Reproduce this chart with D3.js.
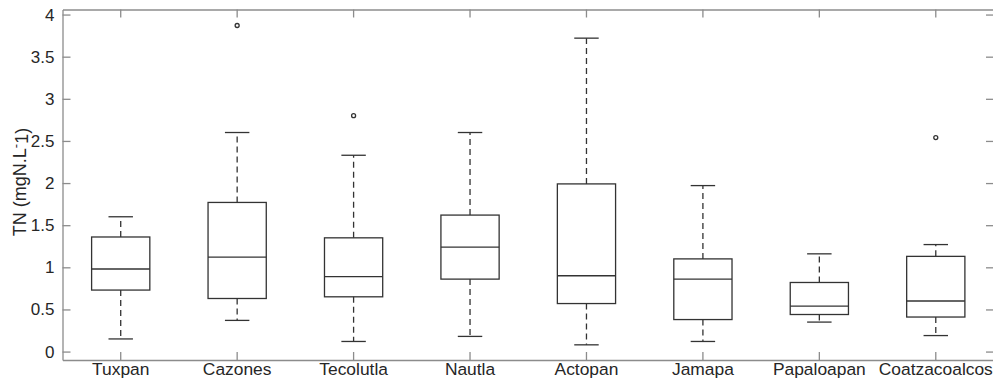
<!DOCTYPE html>
<html>
<head>
<meta charset="utf-8">
<script src="https://cdn.jsdelivr.net/npm/d3@7"></script>
<style>
  body { margin: 0; background: #fff; }
  svg { display: block; }
  svg text { font-family: Arial, "Liberation Sans", sans-serif; }
  .axis path, .axis line { stroke: #8c8c8c; stroke-width: 1.3; }
  .axis text { fill: #262626; font-size: 17px; }
  .axis--x text { font-size: 17.4px; }
  .box__line { stroke: #333; stroke-width: 1.3; fill: none; }
  .box__whisker { stroke: #333; stroke-width: 1.3; stroke-dasharray: 6,4; }
</style>
</head>
<body>
<div id="chart"></div>
<script>
var categories = ['Tuxpan', 'Cazones', 'Tecolutla', 'Nautla', 'Actopan', 'Jamapa', 'Papaloapan', 'Coatzacoalcos'];
var upperWhisker = [1.60, 2.60, 2.33, 2.60, 3.72, 1.97, 1.16, 1.27];
var q3 = [1.36, 1.77, 1.35, 1.62, 1.99, 1.10, 0.82, 1.13];
var median = [0.98, 1.12, 0.89, 1.24, 0.90, 0.86, 0.54, 0.60];
var q1 = [0.73, 0.63, 0.65, 0.86, 0.57, 0.38, 0.44, 0.41];
var lowerWhisker = [0.15, 0.37, 0.12, 0.18, 0.08, 0.12, 0.35, 0.19];
// [category index, value]
var outliers = [[1, 3.87], [2, 2.80], [7, 2.54]];
var yTicks = [0, 0.5, 1, 1.5, 2, 2.5, 3, 3.5, 4];

var width = 993, height = 388;
var margin = { top: 9.5, right: -1, bottom: 28, left: 62.5 };

var svg = d3.select('#chart').append('svg')
    .attr('width', width)
    .attr('height', height);

var x = d3.scaleBand()
    .domain(categories)
    .range([margin.left, width - margin.right])
    .padding(0);

var y = d3.scaleLinear()
    .domain([-0.1, 4.06])
    .range([height - margin.bottom, margin.top]);

var bw = x.bandwidth();
var boxW = bw * 0.5;
var capW = bw * 0.21;

// axes, ticks pointing inward like matlab
svg.append('g')
    .attr('class', 'axis axis--x')
    .attr('transform', 'translate(0,' + (height - margin.bottom) + ')')
    .call(d3.axisBottom(x).tickSize(-8).tickSizeOuter(0).tickPadding(3));

svg.append('g')
    .attr('class', 'axis')
    .attr('transform', 'translate(0,' + margin.top + ')')
    .call(d3.axisTop(x).tickSize(-8).tickSizeOuter(0).tickFormat(''));

svg.append('g')
    .attr('class', 'axis')
    .attr('transform', 'translate(' + margin.left + ',0)')
    .call(d3.axisLeft(y).tickValues(yTicks).tickSize(-8).tickSizeOuter(0)
      .tickPadding(8).tickFormat(function(d) { return String(d); }));

svg.append('g')
    .attr('class', 'axis')
    .attr('transform', 'translate(' + (width - margin.right) + ',0)')
    .call(d3.axisRight(y).tickValues(yTicks).tickSize(-8).tickSizeOuter(0).tickFormat(''));

svg.selectAll('.axis').attr('font-family', null).attr('font-size', null);

// boxes
var boxes = svg.selectAll('.box')
    .data(categories)
  .enter().append('g')
    .attr('class', 'box')
    .attr('transform', function(d) { return 'translate(' + (x(d) + bw / 2) + ',0)'; });

boxes.append('line')
    .attr('class', 'box__whisker')
    .attr('x1', 0).attr('x2', 0)
    .attr('y1', function(d, i) { return y(q3[i]); })
    .attr('y2', function(d, i) { return y(upperWhisker[i]); });

boxes.append('line')
    .attr('class', 'box__whisker')
    .attr('x1', 0).attr('x2', 0)
    .attr('y1', function(d, i) { return y(q1[i]); })
    .attr('y2', function(d, i) { return y(lowerWhisker[i]); });

boxes.append('line')
    .attr('class', 'box__line')
    .attr('x1', -capW / 2).attr('x2', capW / 2)
    .attr('y1', function(d, i) { return y(upperWhisker[i]); })
    .attr('y2', function(d, i) { return y(upperWhisker[i]); });

boxes.append('line')
    .attr('class', 'box__line')
    .attr('x1', -capW / 2).attr('x2', capW / 2)
    .attr('y1', function(d, i) { return y(lowerWhisker[i]); })
    .attr('y2', function(d, i) { return y(lowerWhisker[i]); });

boxes.append('rect')
    .attr('class', 'box__line')
    .attr('x', -boxW / 2)
    .attr('width', boxW)
    .attr('y', function(d, i) { return y(q3[i]); })
    .attr('height', function(d, i) { return y(q1[i]) - y(q3[i]); });

boxes.append('line')
    .attr('class', 'box__line')
    .attr('x1', -boxW / 2).attr('x2', boxW / 2)
    .attr('y1', function(d, i) { return y(median[i]); })
    .attr('y2', function(d, i) { return y(median[i]); });

svg.selectAll('.outlier')
    .data(outliers)
  .enter().append('circle')
    .attr('class', 'box__line')
    .attr('cx', function(d) { return x(categories[d[0]]) + bw / 2; })
    .attr('cy', function(d) { return y(d[1]); })
    .attr('r', 2);

// y label
var label = svg.append('text')
    .attr('transform', 'translate(26,182) rotate(-90)')
    .attr('text-anchor', 'middle')
    .attr('fill', '#262626')
    .attr('font-size', 18);
label.append('tspan').text('TN (mgN.L');
label.append('tspan').attr('dy', '-0.45em').attr('font-size', 13).text('-');
label.append('tspan').attr('dy', '0.45em').text('1)');
</script>
</body>
</html>
